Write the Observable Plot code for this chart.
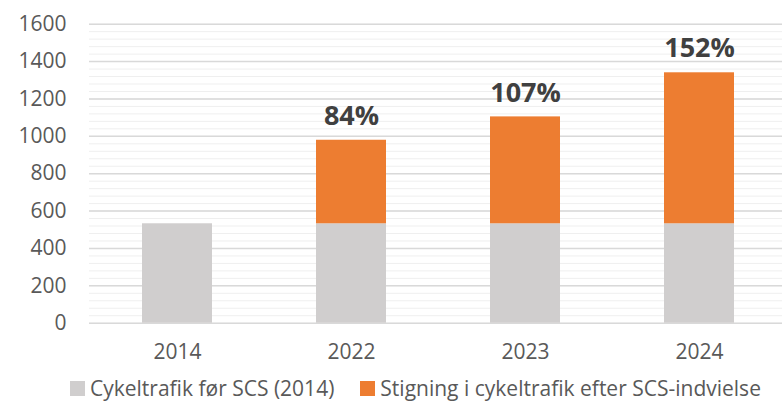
<!DOCTYPE html>
<html>
<head>
<meta charset="utf-8">
<script src="https://cdn.jsdelivr.net/npm/d3@7"></script>
<script src="https://cdn.jsdelivr.net/npm/@observablehq/plot@0.6"></script>
<style>
  html, body { margin: 0; padding: 0; background: #fff; }
  #chart { width: 782px; }
  .legend { display: flex; align-items: center; font-family: "Open Sans", sans-serif; font-size: 21px; color: #595959; margin-left: 70px; margin-top: 2px; white-space: nowrap; }
  .legend .sw { width: 15px; height: 15px; display: inline-block; margin-right: 5px; }
  .legend .item { display: flex; align-items: center; margin-right: 26px; }
</style>
</head>
<body>
<div id="chart"></div>
<script>
const years = ["2014", "2022", "2023", "2024"];
const baseline = [532, 532, 532, 532];
const increase = [0, 447, 572, 808];
const pctLabels = ["", "84%", "107%", "152%"];
const yTicks = [0, 200, 400, 600, 800, 1000, 1200, 1400, 1600];
const minorTicks = d3.range(0, 1601, 40);
const seriesNames = ["Cykeltrafik før SCS (2014)", "Stigning i cykeltrafik efter SCS-indvielse"];
const colors = ["#D0CECE", "#ED7D31"];

const rows = [];
years.forEach((y, i) => {
  rows.push({year: y, series: seriesNames[0], value: baseline[i]});
  rows.push({year: y, series: seriesNames[1], value: increase[i]});
});
const labels = years.map((y, i) => ({year: y, total: baseline[i] + increase[i], label: pctLabels[i]})).filter(d => d.label);

const chart = Plot.plot({
  width: 782,
  height: 372,
  marginLeft: 89,
  marginRight: 0,
  marginTop: 23.7,
  marginBottom: 49.3,
  style: {fontFamily: "Open Sans, sans-serif", fontSize: "21px", color: "#595959", background: "#fff"},
  x: {domain: years, range: [89, 787], paddingInner: 0.6, paddingOuter: 0.3},
  y: {domain: [0, 1600]},
  color: {domain: seriesNames, range: colors},
  marks: [
    Plot.ruleY(minorTicks, {stroke: "#EFEFEF", strokeWidth: 1}),
    Plot.ruleY(yTicks, {stroke: "#D9D9D9", strokeWidth: 1.5}),
    Plot.barY(rows, {x: "year", y: "value", fill: "series", order: seriesNames}),
    Plot.text(labels, {x: "year", y: "total", text: "label", dy: -24, fontSize: 27, fontWeight: "bold", fill: "#404040"}),
    Plot.axisY({ticks: yTicks, tickFormat: d => String(d), tickSize: 0, tickPadding: 23, label: null, fill: "#595959", fontSize: 21}),
    Plot.axisX({tickSize: 0, tickPadding: 21, label: null, fill: "#595959", fontSize: 21})
  ]
});
document.getElementById("chart").appendChild(chart);

const legend = document.createElement("div");
legend.className = "legend";
seriesNames.forEach((name, i) => {
  const item = document.createElement("span");
  item.className = "item";
  const sw = document.createElement("span");
  sw.className = "sw";
  sw.style.background = colors[i];
  item.appendChild(sw);
  item.appendChild(document.createTextNode(name));
  legend.appendChild(item);
});
document.getElementById("chart").appendChild(legend);
</script>
</body>
</html>
